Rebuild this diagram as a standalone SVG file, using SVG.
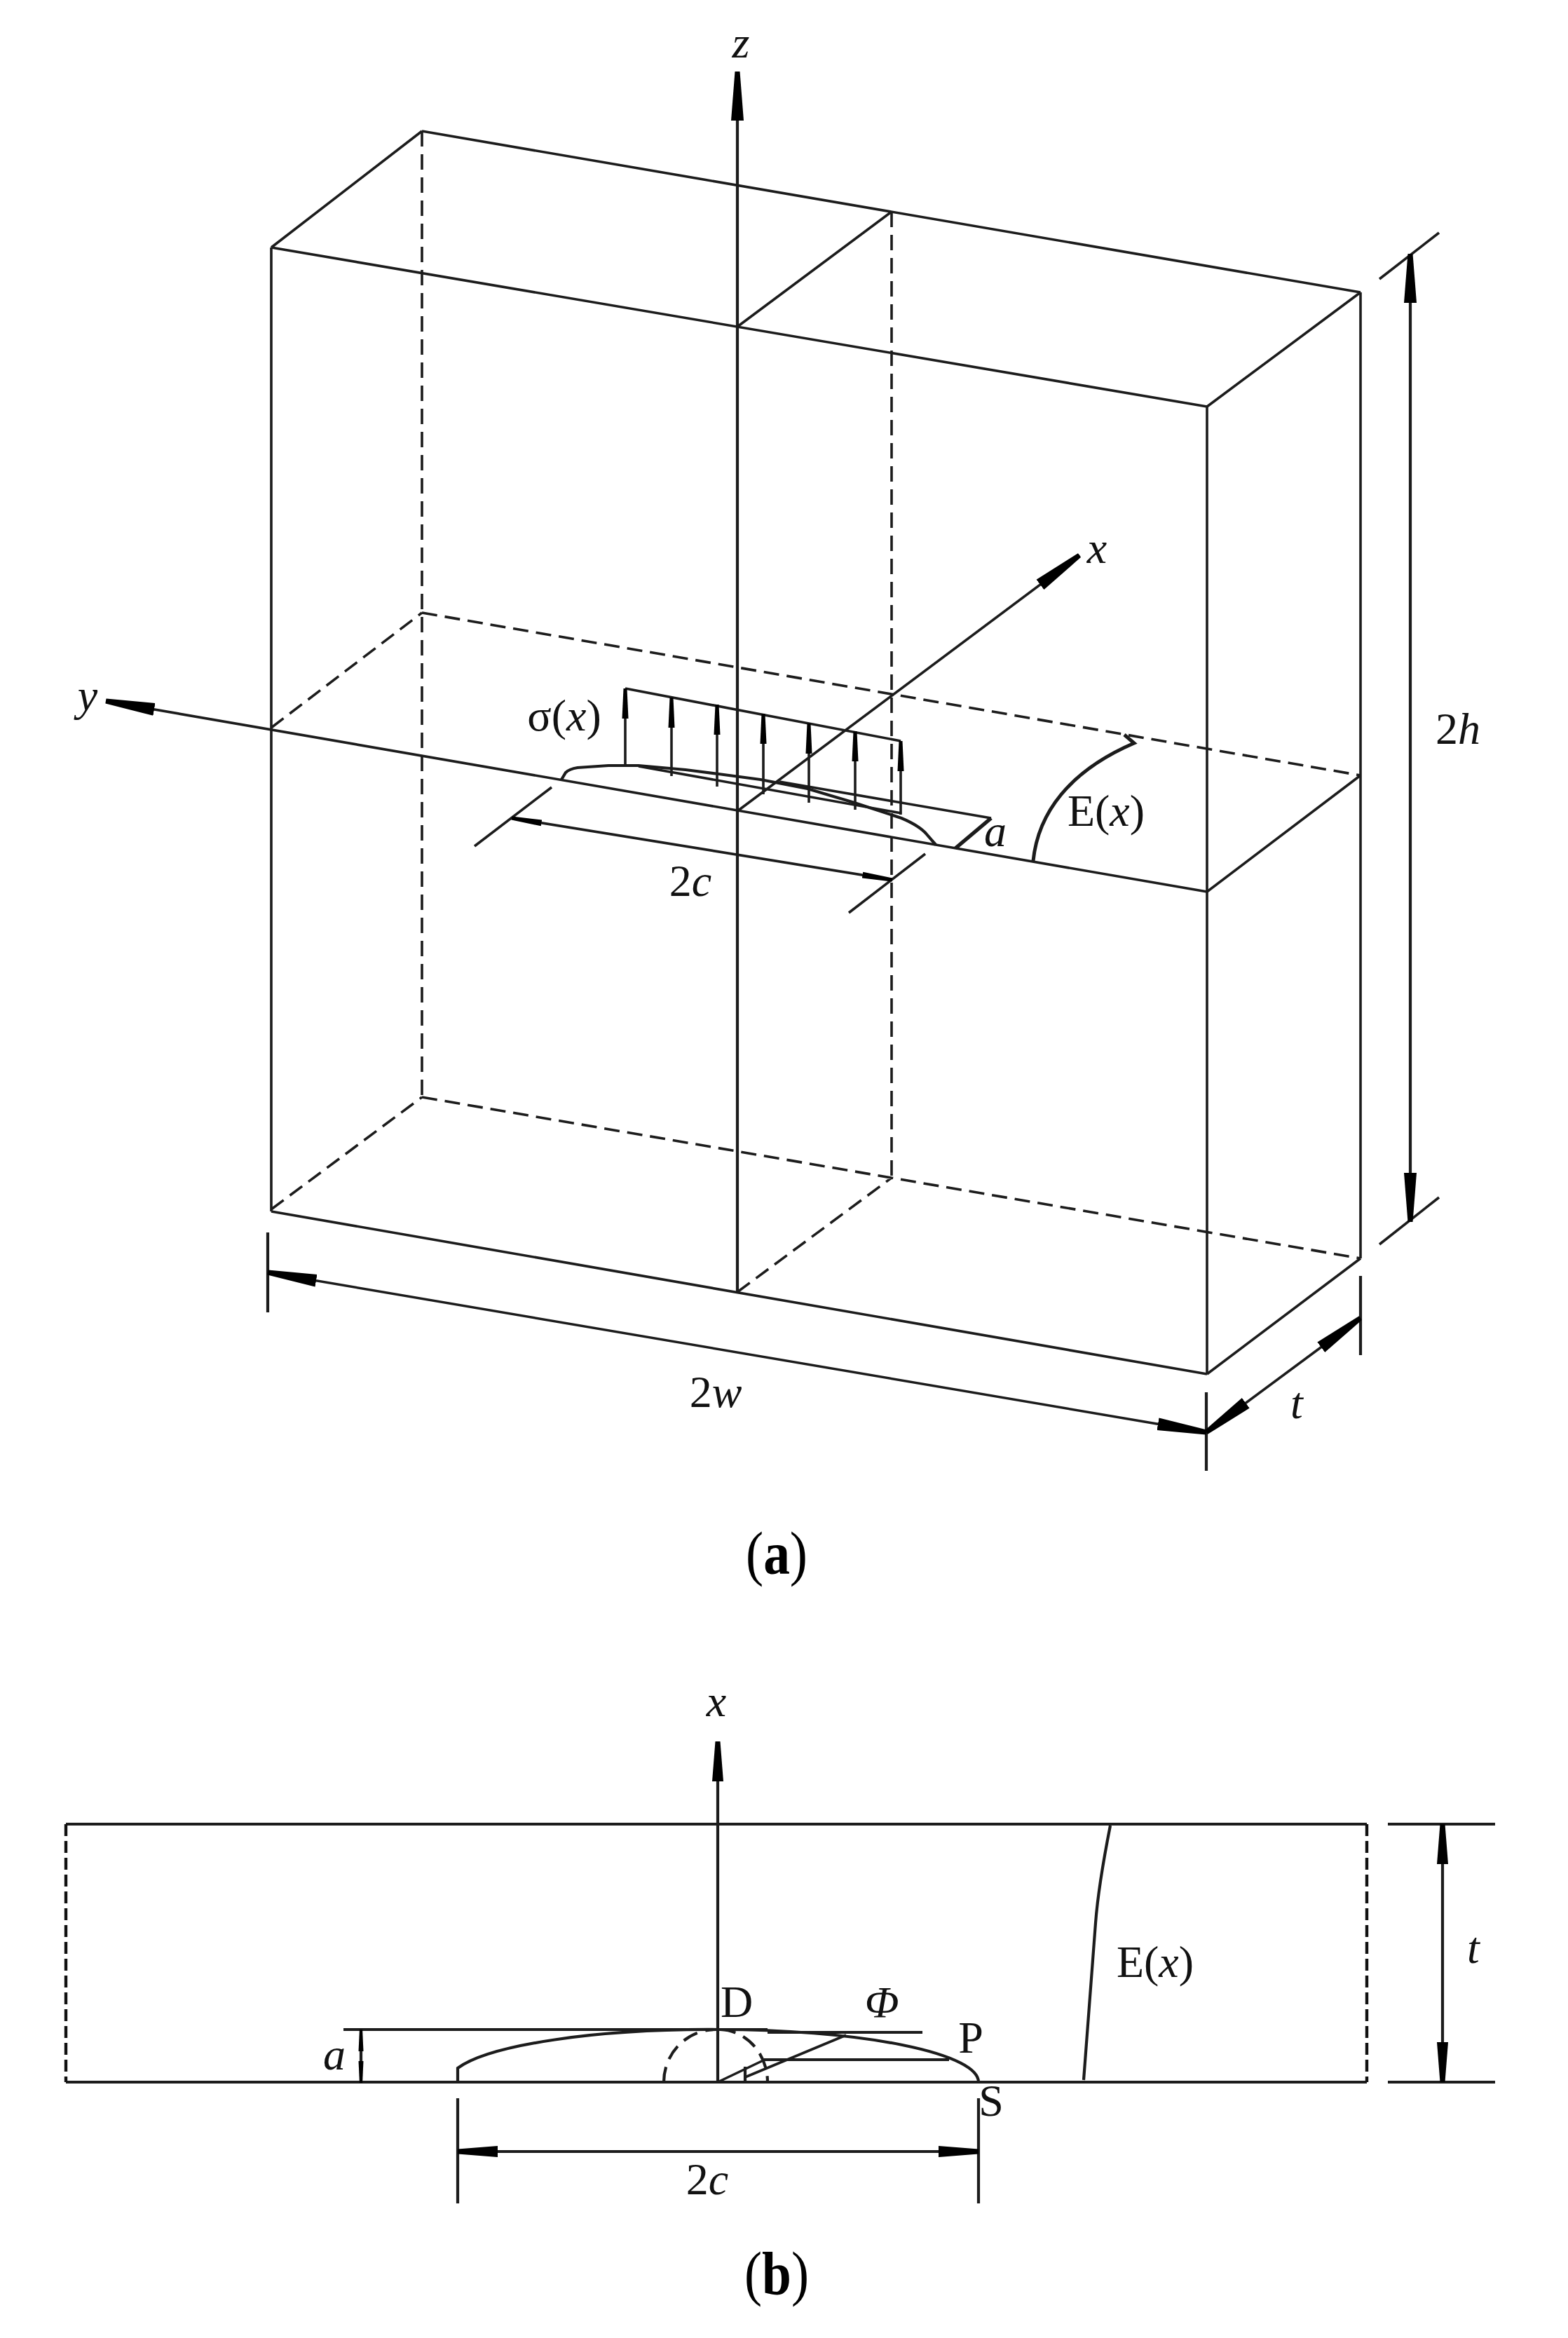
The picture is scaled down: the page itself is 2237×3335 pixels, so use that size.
<svg xmlns="http://www.w3.org/2000/svg" width="2237" height="3335" viewBox="0 0 2237 3335">
<defs>
<style>
.s{fill:none;stroke:#1c1c1c;stroke-width:3.6}
.t{stroke-width:4.2}
.d{fill:none;stroke:#1c1c1c;stroke-width:3.6;stroke-dasharray:22 11}
.dl{fill:none;stroke:#111;stroke-width:4.4;stroke-dasharray:17 7}
.l{font-family:"Liberation Serif","Times New Roman",serif;font-size:64px;fill:#111;text-anchor:middle}
.i{font-style:italic}
.cap{font-family:"Liberation Serif","Times New Roman",serif;font-size:86px;fill:#000;text-anchor:middle}
</style>
<marker id="big" markerUnits="userSpaceOnUse" markerWidth="74" markerHeight="20" refX="70" refY="10" orient="auto-start-reverse" viewBox="0 0 74 20"><path d="M0,1 L70,6.5 L70,13.5 L0,19 Z" fill="#000"/></marker>
<marker id="dim" markerUnits="userSpaceOnUse" markerWidth="58" markerHeight="18" refX="57" refY="9" orient="auto-start-reverse" viewBox="0 0 58 18"><path d="M0,1 L57,5.5 L57,12.5 L0,17 Z" fill="#000"/></marker>
<marker id="small" markerUnits="userSpaceOnUse" markerWidth="44" markerHeight="10" refX="43" refY="5" orient="auto-start-reverse" viewBox="0 0 44 10"><path d="M0,0.5 L43,2.5 L43,7.5 L0,9.5 Z" fill="#000"/></marker>
<marker id="tiny" markerUnits="userSpaceOnUse" markerWidth="32" markerHeight="8" refX="31" refY="4" orient="auto-start-reverse" viewBox="0 0 32 8"><path d="M0,0.5 L31,2 L31,6 L0,7.5 Z" fill="#000"/></marker>
</defs>
<rect width="2237" height="3335" fill="#fff"/>
<g id="figure-a">
<g id="box-solid">
<path class="s" d="M387,353V1728M1722,580V1960M1941,417V1795"/>
<path class="s" d="M602,187L1941,417M387,353L1722,580M387,353L602,187M1722,580L1941,417M1052,466L1272,302M387,1728L1722,1960M1722,1960L1941,1795M1722,1272L1941,1106"/>
</g>
<g id="box-hidden">
<path class="d" d="M602,187V1565M1272,302V1680"/>
<path class="d" d="M602,874L1941,1106M602,1565L1941,1795M387,1038L602,874M387,1725L602,1565M1052,1843L1272,1680"/>
</g>
<g id="axes">
<path class="s t" d="M1052,1843V102" marker-end="url(#big)"/>
<path class="s" d="M1052,1157L1540,792" marker-end="url(#big)"/>
<path class="s" d="M1722,1272L151,1000" marker-end="url(#big)"/>
</g>
<g id="crack">
<path class="s t" d="M801,1112L807,1102Q812,1097 824,1095L868,1092H911L978,1098L1025,1104L1085,1112L1152,1125L1219,1145L1286,1167Q1312,1178 1322,1190L1335,1205"/>
<path class="s" d="M911,1093L1286,1160M1112,1115L1414,1167"/>
<path class="s" d="M892,982L1285,1057"/>
<g id="stress-arrows">
<path class="s" d="M892,1090V982" marker-end="url(#small)"/>
<path class="s" d="M958,1107V995" marker-end="url(#small)"/>
<path class="s" d="M1023,1122V1005" marker-end="url(#small)"/>
<path class="s" d="M1089,1133V1018" marker-end="url(#small)"/>
<path class="s" d="M1154,1145V1032" marker-end="url(#small)"/>
<path class="s" d="M1220,1155V1043" marker-end="url(#small)"/>
<path class="s" d="M1285,1162V1057" marker-end="url(#small)"/>
</g>
<path class="s" style="stroke-width:5.5" d="M1363,1210L1414,1167"/>
<path class="s" style="stroke-width:5" d="M1474,1228C1481,1160 1525,1100 1618,1060L1604,1048"/>
</g>
<g id="dims-a">
<path class="s" d="M787,1123L677,1207M1320,1218L1211,1302"/>
<path class="s" d="M730,1167L1273,1255" marker-start="url(#small)" marker-end="url(#small)"/>
<path class="s" d="M1968,398L2053,332M1968,1775L2053,1708"/>
<path class="s t" d="M2012,362V1743" marker-start="url(#big)" marker-end="url(#big)"/>
<path class="s t" d="M382,1758V1872M1721,1986V2098M1941,1820V1933"/>
<path class="s" d="M382,1815L1721,2043" marker-start="url(#big)" marker-end="url(#big)"/>
<path class="s" d="M1721,2043L1941,1880" marker-start="url(#big)" marker-end="url(#big)"/>
</g>
<g id="labels-a">
<text class="l i" x="1057" y="82">z</text>
<text class="l i" x="1565" y="803">x</text>
<text class="l i" x="125" y="1013">y</text>
<text class="l" x="805" y="1042">σ(<tspan class="i">x</tspan>)</text>
<text class="l" x="1578" y="1178">E(<tspan class="i">x</tspan>)</text>
<text class="l" x="985" y="1278">2<tspan class="i">c</tspan></text>
<text class="l i" x="1420" y="1207">a</text>
<text class="l" x="2080" y="1061">2<tspan class="i">h</tspan></text>
<text class="l" x="1021" y="2007">2<tspan class="i">w</tspan></text>
<text class="l i" x="1850" y="2023">t</text>
</g>
<text class="cap" x="1108" y="2245" textLength="88" lengthAdjust="spacingAndGlyphs">(<tspan font-weight="bold">a</tspan>)</text>
</g>
<g id="figure-b">
<g id="plate">
<path class="s t" d="M94,2602H1950M94,2970H1950M1980,2602H2133M1980,2970H2133"/>
<path class="dl" d="M94,2602V2970M1950,2602V2970"/>
</g>
<g id="axis-b">
<path class="s t" d="M1024,2970V2484" marker-end="url(#dim)"/>
</g>
<g id="crack-b">
<path class="s t" d="M490,2895H1095M1095,2899H1316M1090,2938H1354"/>
<path class="s t" d="M653,2970V2950A371.5,75 0 0 1 1024.5,2895A371.5,75 0 0 1 1396,2970"/>
<path class="s t" d="M947,2970A74,75 0 0 1 1021,2895M1028,2895A70,75 0 0 1 1095,2970" stroke-dasharray="22 12"/>
<path class="s" d="M1024,2970L1091,2938M1063,2963L1207,2903"/>
<path class="s t" d="M1063,2948V2970"/>
</g>
<g id="dims-b">
<path class="s t" d="M515,2895V2971" marker-start="url(#tiny)" marker-end="url(#tiny)"/>
<path class="s t" d="M653,2993V3143M1396,2993V3143"/>
<path class="s t" d="M653,3069H1396" marker-start="url(#dim)" marker-end="url(#dim)"/>
<path class="s t" d="M2058,2602V2970" marker-start="url(#dim)" marker-end="url(#dim)"/>
<path class="s t" d="M1584,2604Q1567,2690 1563,2743L1546,2967"/>
</g>
<g id="labels-b">
<text class="l i" x="1022" y="2448">x</text>
<text class="l" x="1051" y="2877">D</text>
<text class="l i" x="1258" y="2878">Φ</text>
<text class="l" x="1385" y="2928">P</text>
<text class="l" x="1414" y="3018">S</text>
<text class="l" x="1009" y="3130">2<tspan class="i">c</tspan></text>
<text class="l i" x="477" y="2952">a</text>
<text class="l" x="1648" y="2820">E(<tspan class="i">x</tspan>)</text>
<text class="l i" x="2102" y="2800">t</text>
</g>
<text class="cap" x="1108" y="3272" textLength="92" lengthAdjust="spacingAndGlyphs">(<tspan font-weight="bold">b</tspan>)</text>
</g>
</svg>
